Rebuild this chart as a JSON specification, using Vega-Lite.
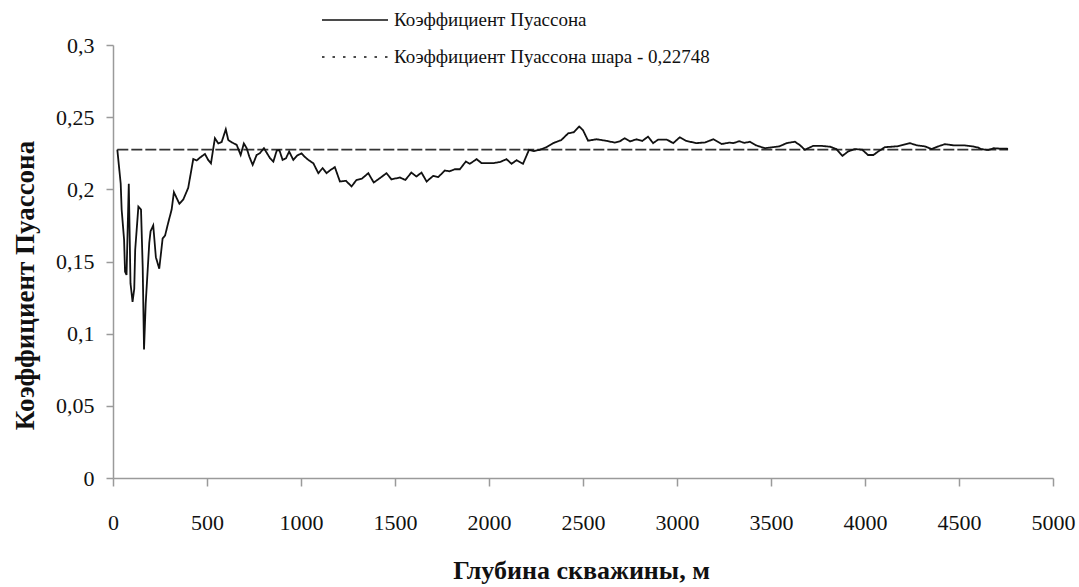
{
  "$schema": "https://vega.github.io/schema/vega-lite/v6.json",
  "width": 940,
  "height": 433,
  "autosize": {"type": "none"},
  "padding": {"left": 113, "top": 45, "right": 26, "bottom": 109},
  "background": "white",
  "config": {
    "view": {"stroke": null},
    "axis": {
      "grid": false,
      "domainColor": "#9a9a9a",
      "tickColor": "#9a9a9a",
      "domainWidth": 1.5,
      "tickWidth": 1.5,
      "labelFont": "Liberation Serif",
      "labelFontSize": 22,
      "labelColor": "#111",
      "titleFont": "Liberation Serif",
      "titleFontWeight": "bold",
      "titleColor": "#111"
    },
    "legend": {
      "labelFont": "Liberation Serif",
      "labelFontSize": 19,
      "labelColor": "#111",
      "labelLimit": 0
    }
  },
  "datasets": {
    "main": [
      {"d": 23, "v": 0.2275}, {"d": 41, "v": 0.2039}, {"d": 46, "v": 0.186}, {"d": 59, "v": 0.165},
      {"d": 64, "v": 0.143}, {"d": 72, "v": 0.1407}, {"d": 84, "v": 0.2039}, {"d": 93, "v": 0.135},
      {"d": 104, "v": 0.122}, {"d": 113, "v": 0.131}, {"d": 118, "v": 0.158}, {"d": 135, "v": 0.188},
      {"d": 149, "v": 0.186}, {"d": 158, "v": 0.146}, {"d": 165, "v": 0.089}, {"d": 174, "v": 0.121},
      {"d": 193, "v": 0.163}, {"d": 200, "v": 0.171}, {"d": 214, "v": 0.175}, {"d": 228, "v": 0.153},
      {"d": 246, "v": 0.145}, {"d": 264, "v": 0.166}, {"d": 277, "v": 0.168}, {"d": 294, "v": 0.177},
      {"d": 312, "v": 0.186}, {"d": 324, "v": 0.198}, {"d": 353, "v": 0.19}, {"d": 374, "v": 0.193},
      {"d": 400, "v": 0.201}, {"d": 427, "v": 0.221}, {"d": 445, "v": 0.22}, {"d": 463, "v": 0.222},
      {"d": 489, "v": 0.2245}, {"d": 506, "v": 0.2204}, {"d": 521, "v": 0.218}, {"d": 542, "v": 0.2354},
      {"d": 560, "v": 0.2318}, {"d": 578, "v": 0.2328}, {"d": 600, "v": 0.2416}, {"d": 613, "v": 0.2342},
      {"d": 631, "v": 0.2326}, {"d": 658, "v": 0.2308}, {"d": 679, "v": 0.2238}, {"d": 696, "v": 0.2318},
      {"d": 711, "v": 0.2285}, {"d": 725, "v": 0.2227}, {"d": 743, "v": 0.2169}, {"d": 764, "v": 0.2238},
      {"d": 781, "v": 0.225}, {"d": 803, "v": 0.2285}, {"d": 835, "v": 0.2216}, {"d": 853, "v": 0.2192},
      {"d": 871, "v": 0.2269}, {"d": 885, "v": 0.2272}, {"d": 902, "v": 0.2204}, {"d": 920, "v": 0.2215},
      {"d": 937, "v": 0.2262}, {"d": 959, "v": 0.2204}, {"d": 980, "v": 0.2235}, {"d": 1003, "v": 0.2249},
      {"d": 1020, "v": 0.2225}, {"d": 1039, "v": 0.2204}, {"d": 1066, "v": 0.218}, {"d": 1092, "v": 0.2112},
      {"d": 1115, "v": 0.2147}, {"d": 1136, "v": 0.2112}, {"d": 1158, "v": 0.2135}, {"d": 1180, "v": 0.2154},
      {"d": 1207, "v": 0.2054}, {"d": 1239, "v": 0.2059}, {"d": 1269, "v": 0.202}, {"d": 1295, "v": 0.2065},
      {"d": 1325, "v": 0.2075}, {"d": 1358, "v": 0.2112}, {"d": 1387, "v": 0.2047}, {"d": 1419, "v": 0.2077},
      {"d": 1455, "v": 0.2112}, {"d": 1481, "v": 0.2069}, {"d": 1526, "v": 0.2082}, {"d": 1555, "v": 0.2065},
      {"d": 1587, "v": 0.2116}, {"d": 1614, "v": 0.2089}, {"d": 1641, "v": 0.2116}, {"d": 1668, "v": 0.2054},
      {"d": 1703, "v": 0.2093}, {"d": 1730, "v": 0.2085}, {"d": 1765, "v": 0.213}, {"d": 1790, "v": 0.2125},
      {"d": 1818, "v": 0.2139}, {"d": 1845, "v": 0.2139}, {"d": 1877, "v": 0.2193}, {"d": 1898, "v": 0.2177},
      {"d": 1934, "v": 0.2209}, {"d": 1961, "v": 0.2181}, {"d": 2022, "v": 0.2181}, {"d": 2060, "v": 0.219},
      {"d": 2093, "v": 0.2209}, {"d": 2120, "v": 0.2177}, {"d": 2147, "v": 0.2202}, {"d": 2181, "v": 0.2177},
      {"d": 2213, "v": 0.2274}, {"d": 2240, "v": 0.2265}, {"d": 2270, "v": 0.2274}, {"d": 2306, "v": 0.2292},
      {"d": 2341, "v": 0.232}, {"d": 2385, "v": 0.2342}, {"d": 2421, "v": 0.2388}, {"d": 2450, "v": 0.2395},
      {"d": 2480, "v": 0.2435}, {"d": 2500, "v": 0.241}, {"d": 2527, "v": 0.2337}, {"d": 2572, "v": 0.2347},
      {"d": 2620, "v": 0.2337}, {"d": 2669, "v": 0.2324}, {"d": 2695, "v": 0.2332}, {"d": 2722, "v": 0.2354},
      {"d": 2750, "v": 0.2332}, {"d": 2785, "v": 0.2347}, {"d": 2815, "v": 0.2335}, {"d": 2846, "v": 0.2365},
      {"d": 2873, "v": 0.232}, {"d": 2900, "v": 0.2345}, {"d": 2945, "v": 0.2345}, {"d": 2980, "v": 0.232},
      {"d": 3015, "v": 0.2361}, {"d": 3050, "v": 0.2335}, {"d": 3104, "v": 0.232}, {"d": 3150, "v": 0.2325},
      {"d": 3193, "v": 0.2347}, {"d": 3238, "v": 0.2314}, {"d": 3281, "v": 0.2324}, {"d": 3299, "v": 0.232},
      {"d": 3330, "v": 0.2333}, {"d": 3360, "v": 0.2322}, {"d": 3388, "v": 0.233}, {"d": 3420, "v": 0.2305},
      {"d": 3467, "v": 0.2285}, {"d": 3500, "v": 0.229}, {"d": 3545, "v": 0.2298}, {"d": 3583, "v": 0.232},
      {"d": 3627, "v": 0.233}, {"d": 3655, "v": 0.2305}, {"d": 3680, "v": 0.2274}, {"d": 3724, "v": 0.2301},
      {"d": 3770, "v": 0.2301}, {"d": 3815, "v": 0.2295}, {"d": 3848, "v": 0.2279}, {"d": 3880, "v": 0.2232},
      {"d": 3910, "v": 0.2262}, {"d": 3945, "v": 0.2279}, {"d": 3985, "v": 0.2275}, {"d": 4016, "v": 0.2238},
      {"d": 4045, "v": 0.2238}, {"d": 4070, "v": 0.2262}, {"d": 4106, "v": 0.2292}, {"d": 4170, "v": 0.2298},
      {"d": 4239, "v": 0.232}, {"d": 4275, "v": 0.2305}, {"d": 4318, "v": 0.2298}, {"d": 4354, "v": 0.2279},
      {"d": 4390, "v": 0.2298}, {"d": 4425, "v": 0.2313}, {"d": 4470, "v": 0.2305}, {"d": 4525, "v": 0.2305},
      {"d": 4570, "v": 0.2298}, {"d": 4600, "v": 0.229}, {"d": 4618, "v": 0.2279}, {"d": 4655, "v": 0.2272},
      {"d": 4685, "v": 0.2285}, {"d": 4720, "v": 0.2282}, {"d": 4761, "v": 0.2281}
    ],
    "ref": [
      {"d": 23, "v": 0.22748},
      {"d": 4761, "v": 0.22748}
    ]
  },
  "encoding": {
    "x": {
      "field": "d",
      "type": "quantitative",
      "scale": {"domain": [0, 5000], "nice": false, "zero": false},
      "axis": {
        "values": [0, 500, 1000, 1500, 2000, 2500, 3000, 3500, 4000, 4500, 5000],
        "format": "d",
        "labelFont": "Liberation Serif",
        "labelFontSize": 22,
        "tickSize": 8,
        "labelPadding": 26,
        "labelFlush": false,
        "title": "Глубина скважины, м",
        "titleFontSize": 26,
        "titleBaseline": "middle",
        "titleX": 468,
        "titleY": 92
      }
    },
    "y": {
      "field": "v",
      "type": "quantitative",
      "scale": {"domain": [0, 0.3], "nice": false},
      "axis": {
        "values": [0, 0.05, 0.1, 0.15, 0.2, 0.25, 0.3],
        "labelExpr": "replace(format(datum.value, '.2~f'), '.', ',')",
        "labelFont": "Liberation Serif",
        "labelFontSize": 22,
        "tickSize": 7,
        "labelPadding": 12,
        "labelFlush": false,
        "title": "Коэффициент Пуассона",
        "titleFontSize": 27,
        "titleAngle": -90,
        "titleAlign": "center",
        "titleBaseline": "middle",
        "titleX": -88,
        "titleY": 240
      }
    }
  },
  "layer": [
    {
      "data": {"name": "ref"},
      "mark": {"type": "line", "color": "#333", "strokeWidth": 1.6, "strokeDash": [11, 3]},
      "encoding": {}
    },
    {
      "data": {"name": "main"},
      "transform": [{"calculate": "'Коэффициент Пуассона'", "as": "series"}],
      "mark": {"type": "line", "color": "#111", "strokeWidth": 1.8},
      "encoding": {
        "strokeDash": {
          "field": "series",
          "type": "nominal",
          "scale": {
            "domain": ["Коэффициент Пуассона", "Коэффициент Пуассона шара - 0,22748"],
            "range": [[1, 0], [2.5, 8]]
          },
          "legend": {
            "title": null,
            "orient": "none",
            "legendX": 208,
            "legendY": -35,
            "padding": 0,
            "symbolType": "stroke",
            "symbolSize": 4356,
            "symbolStrokeWidth": 1.6,
            "symbolStrokeColor": "#111",
            "clipHeight": 20,
            "rowPadding": 17,
            "labelOffset": 5,
            "labelFont": "Liberation Serif",
            "labelFontSize": 19,
            "labelLimit": 0
          }
        }
      }
    }
  ]
}
